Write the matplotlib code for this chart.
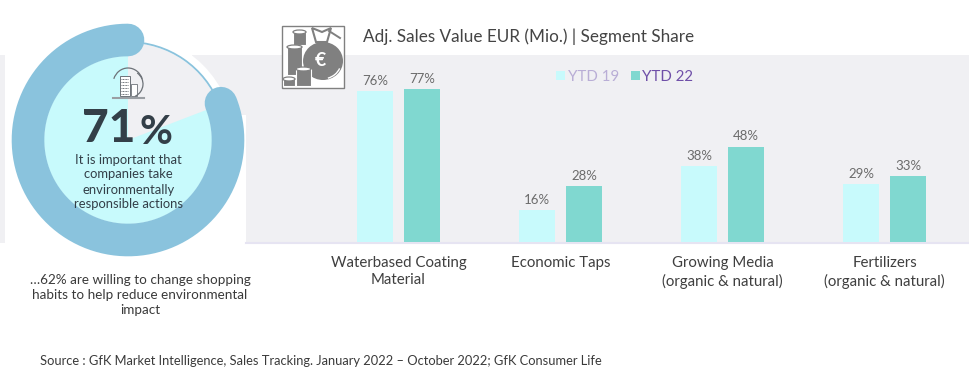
import numpy as np
import matplotlib
matplotlib.use('Agg')
import matplotlib.pyplot as plt
from matplotlib.patches import Rectangle, Circle, Wedge, Ellipse, Arc, Polygon

plt.rcParams['font.family'] = ['Lato', 'DejaVu Sans']

categories = ['Waterbased Coating\nMaterial', 'Economic Taps',
              'Growing Media\n(organic & natural)', 'Fertilizers\n(organic & natural)']
ytd19 = [76, 16, 38, 29]
ytd22 = [77, 28, 48, 33]
series_names = ['YTD 19', 'YTD 22']
ring_share = 0.81  # drawn length of the ring, it is longer than 71% in the picture

W, H = 970, 376
fig = plt.figure(figsize=(W / 100, H / 100), dpi=100)

bg = fig.add_axes([0, 0, 1, 1])
bg.set_xlim(0, W)
bg.set_ylim(H, 0)
bg.axis('off')

grey = '#f0f0f3'
ring = '#8ac3dd'
cyan = '#c8fafc'
teal = '#80d8d0'
dark = '#333f48'

# background panel
bg.add_patch(Rectangle((0, 55), W, 188, fc=grey, ec='none'))
bg.add_patch(Rectangle((5, 55), 241, 188, fc='white', ec='none'))
bg.add_patch(Rectangle((192, 55), 54, 60, fc=grey, ec='none'))
bg.plot([246, W], [242.5, 242.5], color='#e6e4f2', lw=1.5)

# donut
cx, cy = 128, 140
bg.add_patch(Circle((cx, cy), 106, fc='white', ec='none'))
bg.add_patch(Circle((cx, cy), 84, fc=cyan, ec='none'))
# y axis is inverted, so wedge angles run clockwise from +x
bg.add_patch(Wedge((cx, cy), 97, -90, -21, fc=grey, ec='none'))
bg.add_patch(Arc((cx, cy), 196, 196, theta1=-90, theta2=-21, color=ring, lw=1.3))
theta = np.radians(np.linspace(-90, -90 - 360 * ring_share, 200))
bg.plot(cx + 100 * np.cos(theta), cy + 100 * np.sin(theta), color=ring, lw=23.5,
        solid_capstyle='round')

# small building icon
ic = '#6d7278'
bg.add_patch(Rectangle((120, 76), 10, 20, fc='white', ec=ic, lw=0.7))
for yy in np.arange(79, 95, 3):
    bg.plot([121.5, 128.5], [yy, yy], color=ic, lw=0.7, ls=(0, (1, 0.6)))
bg.add_patch(Rectangle((131, 84), 6, 12, fc='white', ec=ic, lw=0.6))
bg.add_patch(Arc((128, 84), 30, 32, theta1=200, theta2=340, color=ic, lw=0.9))
bg.add_patch(Arc((128, 84), 30, 28, theta1=-50, theta2=60, color=ic, lw=0.9))
bg.plot([113, 144], [98, 98], color='#9a9ea3', lw=1.5)

bg.text(109, 129, '71', fontsize=33, fontweight='black', color=dark, ha='center', va='center')
bg.text(156, 132, '%', fontsize=29, fontweight='bold', color=dark, ha='center', va='center')
bg.text(128.5, 182, 'It is important that\ncompanies take\nenvironmentally\nresponsible actions',
        fontsize=9.4, color=dark, ha='center', va='center', linespacing=1.3)

bg.text(140, 295, '…62% are willing to change shopping\nhabits to help reduce environmental\nimpact',
        fontsize=9.7, color='#3a3a3a', ha='center', va='center', linespacing=1.27)
bg.text(40, 361, 'Source : GfK Market Intelligence, Sales Tracking. January 2022 – October 2022; GfK Consumer Life',
        fontsize=9.25, color='#3a3a3a', ha='left', va='center')

# money bag icon
g = '#808080'
bg.add_patch(Rectangle((282.5, 25.5), 62, 62, fc='white', ec=g, lw=1))
bg.add_patch(Ellipse((323, 61), 40, 38, fc=g, ec='none', zorder=3))
bg.add_patch(Polygon([[312, 28], [322, 32], [331, 28], [327, 42], [316, 42]], fc='white', ec=g, lw=1.5, zorder=3))
bg.plot([329, 340], [31, 38], color=g, lw=1.4, zorder=3)
bg.text(320, 60, '€', fontsize=14, color='white', fontweight='bold', ha='center', va='center', zorder=4)
bg.add_patch(Arc((322, 62), 38, 34, theta1=20, theta2=70, color='white', lw=1, zorder=4))
for x0, y0, w, h in [(293, 32, 13, 13), (287, 47, 15, 28), (296, 69, 15, 17), (283, 79, 12, 7)]:
    bg.add_patch(Rectangle((x0, y0), w, h, fc=g, ec='white', lw=0.8, zorder=5))
    bg.add_patch(Ellipse((x0 + w / 2, y0), w, 4, fc='white', ec=g, lw=0.9, zorder=6))

bg.text(363, 37, 'Adj. Sales Value EUR (Mio.) | Segment Share', fontsize=12.3, color='#444444',
        ha='left', va='center')

# bar chart
ax = fig.add_axes([317.5 / W, 1 - 242 / H, 648 / W, 187 / H])
ax.patch.set_alpha(0)
x = np.arange(len(categories))
b1 = ax.bar(x - 0.145, ytd19, 0.225, color=cyan, label=series_names[0])
b2 = ax.bar(x + 0.145, ytd22, 0.225, color=teal, label=series_names[1])
ax.bar_label(b1, fmt='%d%%', fontsize=9.5, color='#6b6b6b', padding=3)
ax.bar_label(b2, fmt='%d%%', fontsize=9.5, color='#6b6b6b', padding=3)
ax.set_xlim(-0.5, 3.5)
ax.set_ylim(0, 94)
ax.set_yticks([])
ax.set_xticks(x, categories, fontsize=10.8, color='#3f3f3f', linespacing=1.32)
ax.tick_params(axis='x', length=0, pad=10)
for s in ax.spines.values():
    s.set_visible(False)

ax.legend(loc='upper left', bbox_to_anchor=((556 - 317.5) / 648, 1 - 15 / 187), ncol=2, frameon=False,
          fontsize=10.8, handlelength=0.6, handleheight=0.6, handletextpad=0.2, columnspacing=0.75,
          labelcolor=['#b9aed6', '#6f4fa8'], borderpad=0, borderaxespad=0)

fig.savefig('out.png', dpi=100)
